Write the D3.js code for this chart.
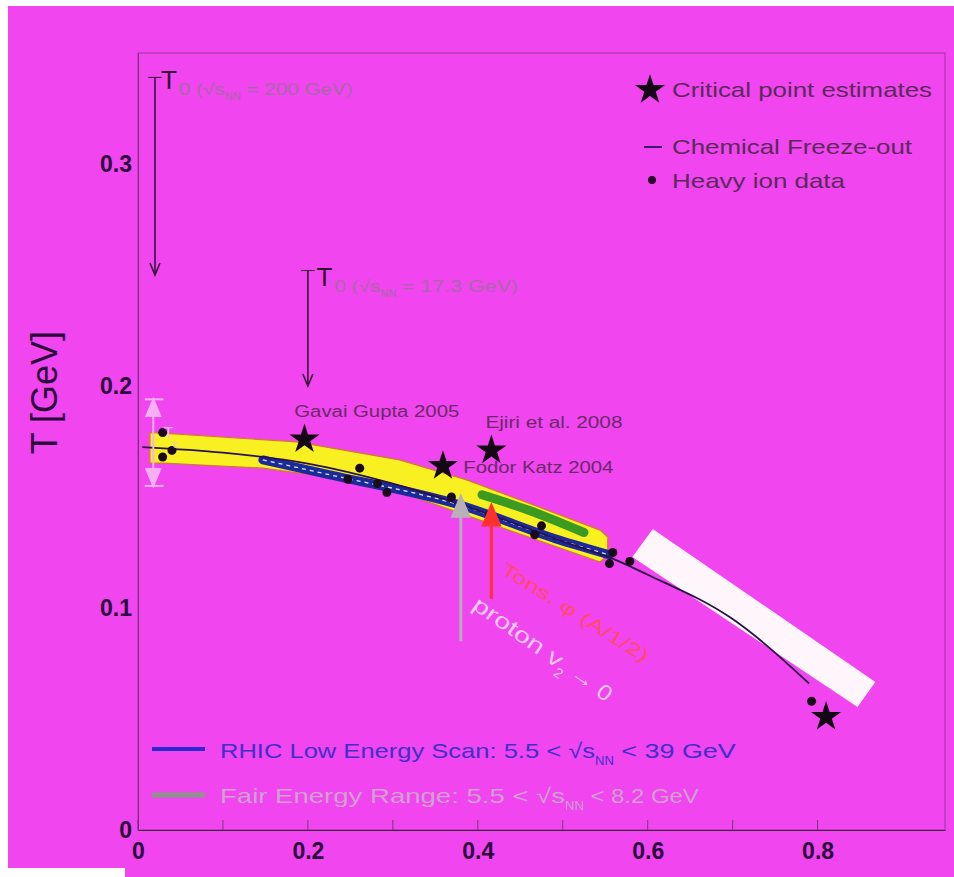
<html>
<script src='https://d3js.org/d3.v7.min.js'></script>
<style>
  body {margin:0; background:white;}
  text {font-family: 'Liberation Sans', Arial, sans-serif;}
</style>
<body onload='init()'>
<svg width=954 height=877></svg>
<script>
// ---- data (mu_B [GeV], T [GeV]) ----
var xTicks = [0, 0.2, 0.4, 0.6, 0.8];
var xMinor = [0.1, 0.3, 0.5, 0.7];
var yTicks = [0, 0.1, 0.2, 0.3];

var freezeMu = [0.005, 0.1, 0.2, 0.3, 0.4, 0.5, 0.56, 0.6, 0.7, 0.79];
var freezeT  = [0.1725, 0.170, 0.165, 0.156, 0.144, 0.130, 0.122, 0.115, 0.095, 0.066];

var bandUpperMu = [0.014, 0.029, 0.187, 0.308, 0.387, 0.544, 0.553];
var bandUpperT  = [0.179, 0.1788, 0.1748, 0.1667, 0.1577, 0.1351, 0.132];
var bandLowerMu = [0.553, 0.544, 0.426, 0.28, 0.147, 0.029, 0.014];
var bandLowerT  = [0.1239, 0.1207, 0.1365, 0.156, 0.163, 0.1653, 0.1653];

var rhicMu = [0.147, 0.226, 0.379, 0.496, 0.555];
var rhicT  = [0.1667, 0.160, 0.1464, 0.1306, 0.1239];

var fairMu = [0.405, 0.46, 0.525];
var fairT  = [0.151, 0.144, 0.134];

var dataMu = [0.029, 0.040, 0.029, 0.247, 0.261, 0.282, 0.293, 0.369, 0.382, 0.414, 0.467, 0.475, 0.555, 0.559, 0.579, 0.793];
var dataT  = [0.179, 0.171, 0.168, 0.158, 0.163, 0.156, 0.152, 0.150, 0.1455, 0.142, 0.133, 0.137, 0.120, 0.125, 0.121, 0.058];

var cpMu    = [0.196, 0.359, 0.416, 0.81];
var cpT     = [0.176, 0.164, 0.171, 0.051];
var cpNames = ['Gavai  Gupta 2005', 'Fodor  Katz 2004', 'Ejiri  et al. 2008', ''];

var boxMu = [0.606, 0.868, 0.847, 0.582];
var boxT  = [0.1356, 0.0667, 0.0554, 0.1230];

async function init() {
  var svg = d3.select('svg');
  var x = d3.scaleLinear([0, 0.95], [138, 945]);
  var y = d3.scaleLinear([0, 0.35], [830, 53]);
  var pt = (m, t) => [x(m), y(t)];
  var zip = (a, b) => a.map((d, i) => [d, b[i]]);

  // background
  svg.append('rect').attr('x', 8).attr('y', 6).attr('width', 946).attr('height', 871).attr('fill', '#f045ef');
  svg.append('rect').attr('x', 0).attr('y', 868).attr('width', 125).attr('height', 9).attr('fill', 'white');

  // frame
  svg.append('rect').attr('x', x(0)).attr('y', y(0.35)).attr('width', x(0.95) - x(0)).attr('height', y(0) - y(0.35))
    .attr('fill', 'none').attr('stroke', '#9a3a9a').attr('stroke-width', 1);

  var line = d3.line().x(d => x(d[0])).y(d => y(d[1])).curve(d3.curveMonotoneX);
  var closed = d3.line().x(d => x(d[0])).y(d => y(d[1])).curve(d3.curveLinearClosed);

  // yellow band
  var band = zip(bandUpperMu, bandUpperT).concat(zip(bandLowerMu, bandLowerT));
  svg.append('path').attr('d', closed(band))
    .attr('fill', '#f8f020').attr('stroke', '#d07a30').attr('stroke-width', 1.2);

  // FAIR green
  svg.append('path').attr('d', line(zip(fairMu, fairT))).attr('fill', 'none')
    .attr('stroke', '#3c9a20').attr('stroke-width', 9).attr('stroke-linecap', 'round');

  // RHIC blue
  svg.append('path').attr('d', line(zip(rhicMu, rhicT))).attr('fill', 'none')
    .attr('stroke', '#1b2a9a').attr('stroke-width', 9).attr('stroke-linecap', 'round');
  svg.append('path').attr('d', line(zip(rhicMu, rhicT))).attr('fill', 'none')
    .attr('stroke', '#e0e0ff').attr('stroke-width', 1.3).attr('stroke-dasharray', '4,4');

  // white box
  svg.append('path').attr('d', closed(zip(boxMu, boxT))).attr('fill', '#fff6fb');

  // freeze-out line
  svg.append('path').attr('d', line(zip(freezeMu, freezeT))).attr('fill', 'none')
    .attr('stroke', '#28124a').attr('stroke-width', 1.8);

  // heavy ion data
  svg.selectAll('circle.d').data(zip(dataMu, dataT)).enter().append('circle')
    .attr('cx', d => x(d[0])).attr('cy', d => y(d[1])).attr('r', 4.5).attr('fill', '#1a0a1a');

  // critical point stars
  var star = d3.symbol().type(d3.symbolStar).size(280);
  svg.selectAll('path.cp').data(zip(cpMu, cpT)).enter().append('path')
    .attr('d', star).attr('transform', d => 'translate(' + x(d[0]) + ',' + y(d[1]) + ')').attr('fill', '#140814');
  var cpLab = [[0.184, 0.186], [0.383, 0.161], [0.409, 0.181], [0, 0]];
  var cpLen = [165, 150, 137, 0];
  svg.selectAll('text.cp').data(cpNames).enter().append('text')
    .attr('x', (d, i) => x(cpLab[i][0])).attr('y', (d, i) => y(cpLab[i][1]))
    .attr('textLength', (d, i) => cpLen[i] || null).attr('lengthAdjust', 'spacingAndGlyphs')
    .attr('font-size', 16).attr('fill', '#6a2a6a').text(d => d);

  // arrows
  function arrow(m, t0, t1, col, w, head) {
    var g = svg.append('g');
    g.append('line').attr('x1', x(m)).attr('x2', x(m)).attr('y1', y(t0)).attr('y2', y(t1))
      .attr('stroke', col).attr('stroke-width', w);
    var dir = y(t1) > y(t0) ? 1 : -1;
    g.append('path').attr('d', 'M' + (x(m) - head / 2) + ',' + (y(t1) - dir * head * 1.2) + 'L' + x(m) + ',' + y(t1) + 'L' + (x(m) + head / 2) + ',' + (y(t1) - dir * head * 1.2) + (head > 12 ? 'Z' : ''))
      .attr('fill', head > 12 ? col : 'none').attr('stroke', col).attr('stroke-width', w);
    return g;
  }
  arrow(0.02, 0.339, 0.25, '#301030', 1.5, 10);
  svg.append('line').attr('x1', x(0.012)).attr('x2', x(0.028)).attr('y1', y(0.339)).attr('y2', y(0.339)).attr('stroke', '#301030');
  arrow(0.2, 0.252, 0.2, '#301030', 1.5, 10);
  svg.append('line').attr('x1', x(0.192)).attr('x2', x(0.208)).attr('y1', y(0.252)).attr('y2', y(0.252)).attr('stroke', '#301030');

  // Tc double arrow
  arrow(0.018, 0.175, 0.155, '#f4b0f0', 2, 14);
  arrow(0.018, 0.175, 0.194, '#f4b0f0', 2, 14);
  [0.155, 0.194].forEach(t => svg.append('line').attr('x1', x(0.008)).attr('x2', x(0.03))
    .attr('y1', y(t)).attr('y2', y(t)).attr('stroke', '#f4b0f0').attr('stroke-width', 2));
  svg.append('text').attr('x', x(0.03)).attr('y', y(0.176)).attr('font-size', 16).attr('fill', '#f4c0f0').text('T');
  svg.append('text').attr('x', x(0.041)).attr('y', y(0.172)).attr('font-size', 11).attr('fill', '#f4c0f0').text('c');

  arrow(0.38, 0.085, 0.150, '#b8b0b8', 3, 16);
  arrow(0.416, 0.104, 0.146, '#ff3030', 3, 16);

  // T0 labels
  function t0Label(m, t, txt, len) {
    var tt = svg.append('text').attr('x', x(m)).attr('y', y(t)).attr('fill', '#301030');
    tt.append('tspan').attr('font-size', 26).text('T');
    tt.append('tspan').attr('font-size', 16).attr('fill', '#a868a8').attr('dy', 6).attr('dx', 2)
      .attr('textLength', 46).attr('lengthAdjust', 'spacingAndGlyphs').text('0 (√s');
    tt.append('tspan').attr('font-size', 11).attr('fill', '#a868a8').attr('dy', 5).text('NN');
    tt.append('tspan').attr('font-size', 16).attr('fill', '#a868a8').attr('dy', -5)
      .attr('textLength', len).attr('lengthAdjust', 'spacingAndGlyphs').text(' = ' + txt + ')');
  }
  t0Label(0.027, 0.334, '200 GeV', 112);
  t0Label(0.21, 0.245, '17.3 GeV', 122);

  // rotated labels
  var a1 = pt(0.426, 0.116);
  svg.append('text').attr('transform', 'translate(' + a1[0] + ',' + a1[1] + ') rotate(32)')
    .attr('font-size', 18).attr('fill', '#ff4a6a').attr('textLength', 170).attr('lengthAdjust', 'spacingAndGlyphs')
    .text('Tons. φ (A/1/2)');
  var a2 = pt(0.392, 0.1);
  var tp = svg.append('text').attr('transform', 'translate(' + a2[0] + ',' + a2[1] + ') rotate(35)')
    .attr('font-size', 22).attr('fill', '#f4c8f4');
  tp.append('tspan').attr('textLength', 105).attr('lengthAdjust', 'spacingAndGlyphs').text('proton v');
  tp.append('tspan').attr('font-size', 14).attr('dy', 8).text('2');
  tp.append('tspan').attr('dy', -8).attr('textLength', 52).attr('lengthAdjust', 'spacingAndGlyphs').text(' → 0');

  // legend top-right
  svg.append('path').attr('d', star).attr('transform', 'translate(650,90)').attr('fill', '#140814');
  function legText(x0, y0, len, col, s) {
    return svg.append('text').attr('x', x0).attr('y', y0).attr('font-size', 21).attr('fill', col)
      .attr('textLength', len).attr('lengthAdjust', 'spacingAndGlyphs').text(s);
  }
  legText(672, 97, 260, '#5a2a5a', 'Critical point estimates');
  svg.append('line').attr('x1', 644).attr('x2', 662).attr('y1', 147).attr('y2', 147).attr('stroke', '#3a1a6a').attr('stroke-width', 2);
  legText(672, 154, 240, '#5a2a5a', 'Chemical Freeze-out');
  svg.append('circle').attr('cx', 652).attr('cy', 180).attr('r', 4).attr('fill', '#2a0a2a');
  legText(672, 188, 173, '#5a2a5a', 'Heavy ion data');

  // legend bottom
  function sqrtLegend(y0, col, pre, post, l1, l2) {
    var t = svg.append('text').attr('x', 220).attr('y', y0).attr('font-size', 21).attr('fill', col);
    t.append('tspan').attr('textLength', l1).attr('lengthAdjust', 'spacingAndGlyphs').text(pre + ' √s');
    t.append('tspan').attr('font-size', 13).attr('dy', 7).text('NN');
    t.append('tspan').attr('dy', -7).attr('textLength', l2).attr('lengthAdjust', 'spacingAndGlyphs').text(' ' + post);
  }
  svg.append('line').attr('x1', 152).attr('x2', 205).attr('y1', 749).attr('y2', 749).attr('stroke', '#2a2ad0').attr('stroke-width', 4);
  sqrtLegend(758, '#4030c8', 'RHIC Low Energy Scan: 5.5 <', '< 39 GeV', 375, 122);
  svg.append('line').attr('x1', 152).attr('x2', 205).attr('y1', 795).attr('y2', 795).attr('stroke', '#8c948c').attr('stroke-width', 5);
  sqrtLegend(803, '#d0a0d0', 'Fair Energy Range: 5.5 <', '< 8.2 GeV', 345, 115);

  // axes
  var xAxis = d3.axisBottom(x).tickValues(xTicks).tickSize(0).tickPadding(13).tickFormat(d3.format('~g'));
  var gx = svg.append('g').attr('transform', 'translate(0,' + y(0) + ')').call(xAxis);
  gx.select('.domain').attr('stroke', '#3a1a3a');
  gx.selectAll('text').attr('font-size', 23).attr('font-weight', 'bold').attr('fill', '#2a0a3a');
  svg.append('g').selectAll('line').data(xTicks.concat(xMinor)).enter().append('line')
    .attr('x1', d => x(d)).attr('x2', d => x(d)).attr('y1', y(0)).attr('y2', y(0) - 10).attr('stroke', '#7a3a7a');

  var yAxis = d3.axisLeft(y).tickValues(yTicks).tickSize(0).tickPadding(6).tickFormat(d3.format('~g'));
  var gy = svg.append('g').attr('transform', 'translate(' + x(0) + ',0)').call(yAxis);
  gy.select('.domain').attr('stroke', '#7a2a7a');
  gy.selectAll('text').attr('font-size', 23).attr('font-weight', 'bold').attr('fill', '#2a0a3a');

  svg.append('text').attr('transform', 'translate(57,' + y(0.197) + ') rotate(-90)').attr('text-anchor', 'middle')
    .attr('font-size', 36).attr('fill', '#2a0a3a').text('T [GeV]');
}
</script>
</body>
</html>
